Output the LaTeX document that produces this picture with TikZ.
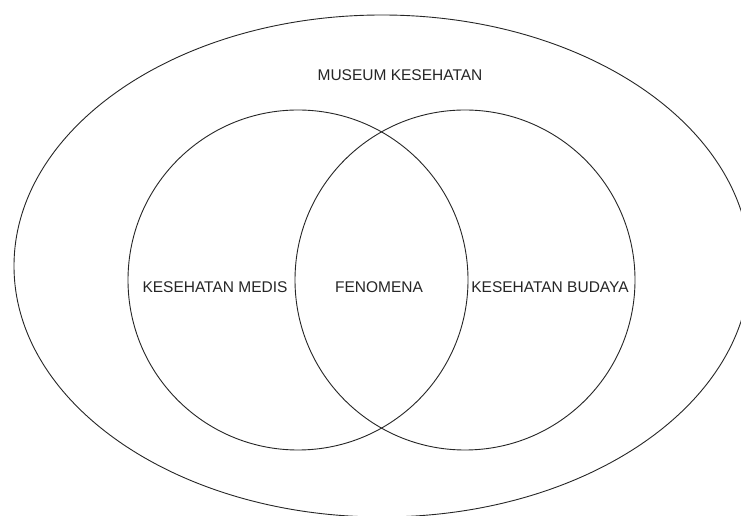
\documentclass[tikz,border=0pt]{standalone}
\usepackage{fontspec}
\setmainfont{Liberation Sans}
\usetikzlibrary{shapes.geometric}
\begin{document}
\begin{tikzpicture}[x=1pt,y=1pt,
  outline/.style={draw=black!85, line width=0.9pt, inner sep=0pt},
  lbl/.style={font=\fontsize{15.5}{18}\selectfont, text=black!85, inner sep=0pt}]
\useasboundingbox (0,0) rectangle (741,516);
\clip (0,0) rectangle (741,516);
\fill[white] (0,0) rectangle (741,516);
\node[outline, ellipse, minimum width=736pt, minimum height=502pt] (museum) at (382,250) {};
\node[outline, circle, minimum size=340pt] (medis) at (298,236) {};
\node[outline, circle, minimum size=340pt] (budaya) at (465,236) {};
\node[lbl] (tmuseum) at (400,441) {MUSEUM KESEHATAN};
\node[lbl] (tmedis) at (215,229) {KESEHATAN MEDIS};
\node[lbl] (tfen) at (379,229) {FENOMENA};
\node[lbl] (tbud) at (550,229) {KESEHATAN BUDAYA};
\end{tikzpicture}
\end{document}
